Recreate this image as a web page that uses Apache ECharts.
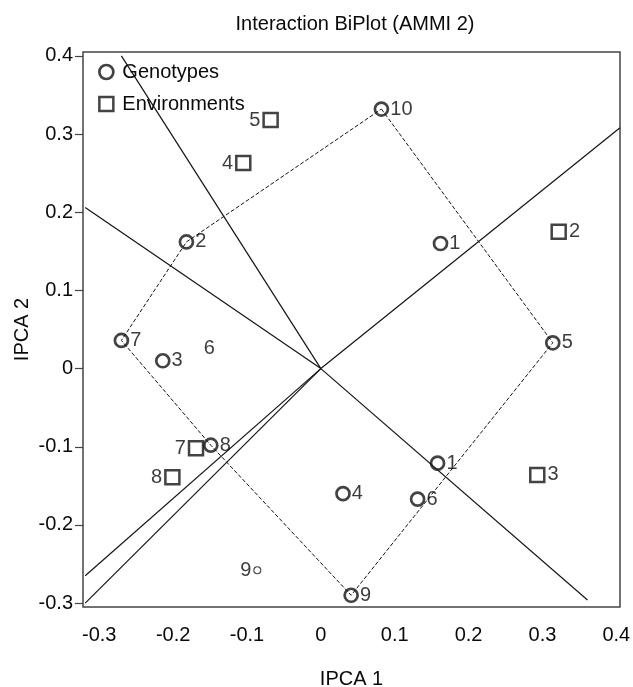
<!DOCTYPE html>
<html><head><meta charset="utf-8">
<script src="https://cdn.jsdelivr.net/npm/echarts@6/dist/echarts.min.js"></script>
<style>html,body{margin:0;padding:0;background:#fff}#c{width:633px;height:687px}</style>
</head><body><div id="c"></div>
<script>
// Genotypes (circles)
const genotypeLabels = ['10', '2', '1', '5', '7', '3', '8', '4', '6', '1', '9'];
const genotypeX = [0.082, -0.182, 0.162, 0.314, -0.270, -0.214, -0.149, 0.030, 0.131, 0.158, 0.041];
const genotypeY = [0.332, 0.162, 0.160, 0.033, 0.036, 0.010, -0.098, -0.160, -0.167, -0.121, -0.290];
// Environments (squares)
const environmentLabels = ['2', '3', '4', '5', '7', '8'];
const environmentX = [0.322, 0.293, -0.105, -0.068, -0.169, -0.201];
const environmentY = [0.175, -0.136, 0.263, 0.318, -0.102, -0.139];
// Extra annotated points
const extraLabels = ['6', '9'];
const extraX = [-0.151, -0.086];
const extraY = [0.0255, -0.258];
// Polygon (convex hull) vertex order, indices into genotype arrays
const hullIndex = [0, 3, 10, 6, 4, 1];
// Rays from origin, end points
const rayEndX = [-0.270, -0.319, 0.361, 0.405, -0.319, -0.319];
const rayEndY = [0.400, 0.206, -0.296, 0.308, -0.265, -0.300];
// Tick values
const xTicks = [-0.3, -0.2, -0.1, 0, 0.1, 0.2, 0.3, 0.4];
const yTicks = [-0.3, -0.2, -0.1, 0, 0.1, 0.2, 0.3, 0.4];

const INK = '#141414';
const TXT = '#0a0a0a';
const FONT = 'Liberation Sans, Arial, Helvetica, sans-serif';
const leftSideEnv = { '4': 1, '5': 1, '7': 1, '8': 1 };
const fmt = v => String(+(+v).toFixed(1));

const hullData = hullIndex.map(i => [genotypeX[i], genotypeY[i]]);
hullData.push(hullData[0]);

const series = [];
series.push({
  type: 'line', name: 'hull', data: hullData, symbol: 'none', silent: true,
  lineStyle: { color: INK, width: 1, type: [4, 2] }, z: 2, animation: false
});
rayEndX.forEach((x, i) => {
  series.push({
    type: 'line', name: 'ray' + i, data: [[0, 0], [x, rayEndY[i]]], symbol: 'none', silent: true,
    lineStyle: { color: INK, width: 1.2 }, z: 2, animation: false
  });
});
series.push({
  type: 'scatter', name: 'Genotypes', symbol: 'circle', symbolSize: 13,
  itemStyle: { color: 'rgba(255,255,255,0)', borderColor: INK, borderWidth: 2.7 },
  label: { show: true, position: 'right', distance: 1, formatter: p => p.name, color: TXT, fontSize: 20, fontFamily: FONT },
  data: genotypeX.map((x, i) => ({ name: genotypeLabels[i], value: [x, genotypeY[i]] })),
  z: 5, animation: false
});
series.push({
  type: 'scatter', name: 'Environments', symbol: 'rect', symbolSize: 14,
  itemStyle: { color: 'rgba(255,255,255,0)', borderColor: INK, borderWidth: 2.5 },
  label: { show: true, distance: 2, formatter: p => p.name, color: TXT, fontSize: 20, fontFamily: FONT },
  data: environmentX.map((x, i) => ({
    name: environmentLabels[i], value: [x, environmentY[i]],
    label: { position: leftSideEnv[environmentLabels[i]] ? 'left' : 'right' }
  })),
  z: 5, animation: false
});
series.push({
  type: 'scatter', name: 'extra', symbol: 'circle',
  data: [
    { name: extraLabels[0], value: [extraX[0], extraY[0]], symbolSize: 1, itemStyle: { color: 'rgba(0,0,0,0)', borderWidth: 0 },
      label: { position: 'inside' } },
    { name: extraLabels[1], value: [extraX[1], extraY[1]], symbolSize: 7, itemStyle: { color: 'rgba(255,255,255,0)', borderColor: INK, borderWidth: 1.1 },
      label: { position: 'left', distance: 2 } }
  ],
  label: { show: true, formatter: p => p.name, color: TXT, fontSize: 20, fontFamily: FONT },
  z: 5, animation: false
});

const chart = echarts.init(document.getElementById('c'), null, { renderer: 'canvas' });
chart.setOption({
  backgroundColor: '#fff',
  animation: false,
  title: {
    text: 'Interaction BiPlot (AMMI 2)', left: 350, top: 9, textAlign: 'center',
    textStyle: { fontSize: 20, fontWeight: 'normal', color: TXT, fontFamily: FONT }
  },
  legend: {
    orient: 'vertical', left: 93, top: 57, itemWidth: 14, itemHeight: 14, itemGap: 12,
    selectedMode: false,
    textStyle: { fontSize: 20, color: TXT, fontFamily: FONT, padding: [0, 0, 0, 4] },
    data: [
      { name: 'Genotypes', icon: 'circle', itemStyle: { color: '#fff', borderColor: INK, borderWidth: 2.7 } },
      { name: 'Environments', icon: 'rect', itemStyle: { color: '#fff', borderColor: INK, borderWidth: 2.5 } }
    ]
  },
  grid: { left: 83, right: 13, top: 52, bottom: 80, outerBoundsMode: 'none', containLabel: false, show: true, borderColor: '#444', borderWidth: 1.5, backgroundColor: 'transparent' },
  xAxis: {
    type: 'value', min: -0.322, max: 0.405,
    name: 'IPCA 1', nameLocation: 'middle', nameGap: 62, nameMoveOverlap: false,
    nameTextStyle: { fontSize: 20, color: TXT, fontFamily: FONT },
    axisLine: { show: false, onZero: false }, axisTick: { show: false }, splitLine: { show: false },
    axisLabel: { customValues: xTicks, formatter: fmt, fontSize: 20, color: TXT, fontFamily: FONT, margin: 18 }
  },
  yAxis: {
    type: 'value', min: -0.305, max: 0.405,
    name: 'IPCA 2', nameLocation: 'middle', nameGap: 51, nameRotate: 90, nameMoveOverlap: false,
    nameTextStyle: { fontSize: 20, color: TXT, fontFamily: FONT },
    axisLine: { show: false, onZero: false }, splitLine: { show: false },
    axisTick: { show: true, customValues: yTicks, length: 8, lineStyle: { color: '#444', width: 1.2 } },
    axisLabel: { customValues: yTicks, formatter: fmt, fontSize: 20, color: TXT, fontFamily: FONT, margin: 10 }
  },
  series: series
});
</script></body></html>
